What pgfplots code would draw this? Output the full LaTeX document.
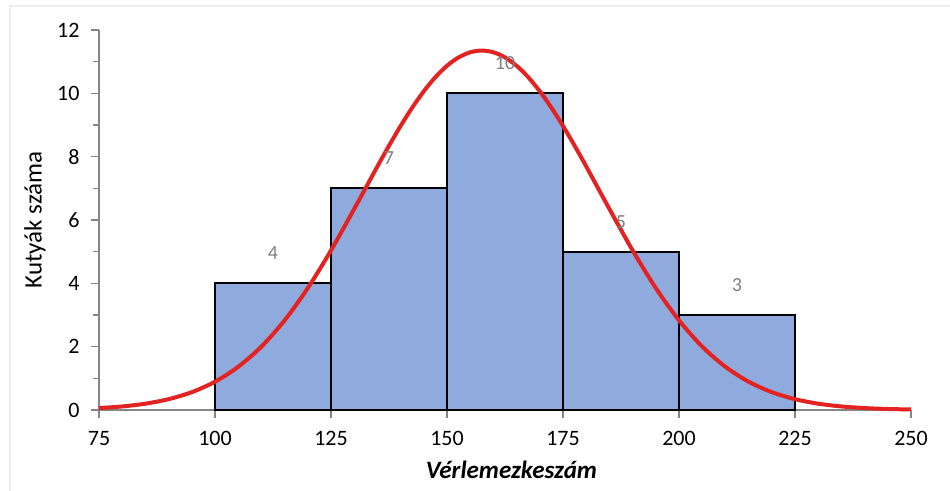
\documentclass[border=0pt]{standalone}
\usepackage{pgfplots}
\pgfplotsset{compat=1.18}
\usepackage{fontspec}
\setmainfont{Carlito}

\definecolor{barblue}{HTML}{8FAADC}
\definecolor{curvered}{HTML}{E32322}
\definecolor{axisgray}{HTML}{868686}
\definecolor{labelgray}{HTML}{7F7F7F}
\definecolor{framegray}{HTML}{EDEDED}

% histogram classes: lower bound, upper bound, count
\pgfplotstableread{
lo  hi  n
100 125 4
125 150 7
150 175 10
175 200 5
200 225 3
}\bins

\begin{document}
\begin{tikzpicture}[x=1bp,y=1bp]
\useasboundingbox (-99,-81) rectangle (851,410);
\draw[framegray, line width=1.5bp] (-89,-95) -- (-89,404) -- (860,404);
\begin{axis}[
  scale only axis,
  width=812bp, height=380bp,
  xmin=75, xmax=250, ymin=0, ymax=12,
  axis lines*=left,
  axis line style={axisgray, line width=1.3bp},
  every tick/.style={axisgray, line width=1.3bp},
  tick align=outside,
  xtick={75,100,...,250},
  ytick={0,2,...,12},
  minor y tick num=1,
  major tick length=8bp,
  minor tick length=6bp,
  tick label style={font=\fontsize{22bp}{26bp}\selectfont, text=black},
  xticklabel style={yshift=-10bp},
  yticklabel style={xshift=-8bp},
  /pgf/number format/assume math mode=true,
  xlabel={\textbf{\textit{Vérlemezkeszám}}},
  ylabel={Kutyák száma},
  every axis x label/.style={at={(axis description cs:0.508,-0.158)}, anchor=center,
    font=\fontsize{25bp}{30bp}\selectfont},
  every axis y label/.style={at={(axis description cs:-0.079,0.5)}, rotate=90, anchor=center,
    font=\fontsize{25bp}{30bp}\selectfont},
  clip=false,
]
% bars of the histogram
\pgfplotsinvokeforeach{0,...,4}{
  \pgfplotstablegetelem{#1}{lo}\of\bins \edef\lo{\pgfplotsretval}
  \pgfplotstablegetelem{#1}{hi}\of\bins \edef\hi{\pgfplotsretval}
  \pgfplotstablegetelem{#1}{n}\of\bins \edef\nn{\pgfplotsretval}
  \edef\temp{\noexpand\addplot[fill=barblue, draw=black, line width=1.9bp]
    coordinates {(\lo,0) (\lo,\nn) (\hi,\nn) (\hi,0)} -- cycle;}
  \temp
}
% class counts written above each bar
\addplot[only marks, mark=none,
  nodes near coords, point meta=explicit symbolic,
  every node near coord/.style={font=\fontsize{20bp}{24bp}\selectfont, text=labelgray, anchor=center, yshift=30bp}]
  table[meta=n] {
  x     y  n
  112.5 4  4
  137.5 7  7
  162.5 10 10
  187.5 5  5
  212.5 3  3
};
% fitted normal curve
\addplot[curvered, line width=4bp, smooth] coordinates {
(75,0.061) (80,0.112) (85,0.199) (90,0.342) (95,0.563) (100,0.893)
(105,1.364) (110,2.002) (115,2.831) (120,3.850) (125,5.040) (130,6.348)
(135,7.692) (137.5,8.346) (140,8.969) (142.5,9.547) (145,10.065) (147.5,10.510)
(150,10.870) (152.5,11.134) (155,11.296) (157.5,11.350) (160,11.296) (162.5,11.134)
(165,10.870) (167.5,10.510) (170,10.065) (172.5,9.547) (175,8.969) (177.5,8.346)
(180,7.692) (185,6.348)
(190,5.040) (195,3.850) (200,2.831) (205,2.002) (210,1.364) (215,0.893)
(220,0.563) (225,0.342) (230,0.199) (235,0.112) (240,0.061) (245,0.032)
(250,0.016)
};
\end{axis}
\end{tikzpicture}
\end{document}
